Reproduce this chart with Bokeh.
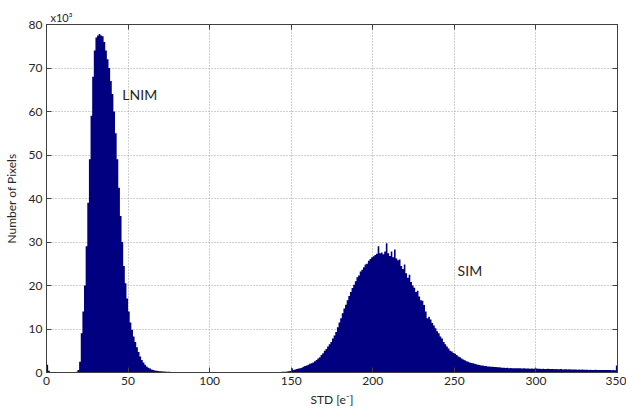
from bokeh.plotting import figure
from bokeh.models import Range1d, LinearAxis, Label, FixedTicker, CustomJSTickFormatter
from bokeh.embed import file_html
from bokeh.resources import INLINE

# ---------------- data (counts in units of 10^3 pixels, 1-unit bins) ----------------
x_ticks = [0, 50, 100, 150, 200, 250, 300, 350]
y_ticks = [0, 10, 20, 30, 40, 50, 60, 70, 80]

low_start = 0
low_counts = [1.8, 0.4]

lnim_start = 18
lnim_counts = [
    0.2, 0.6, 2.5, 9.0, 14.0, 20.0, 29.0, 39.0, 49.0, 59.0,      # 18-27
    68.0, 74.0, 77.0, 77.5, 77.8, 77.5, 77.3, 76.0, 74.0, 72.0,  # 28-37
    70.0, 67.0, 64.0, 60.0, 55.0, 49.0, 42.5, 36.0, 30.0, 24.5,  # 38-47
    20.5, 17.0, 14.0, 11.5, 9.8, 8.3, 7.0, 5.8, 4.7, 3.7,        # 48-57
    2.9, 2.3, 1.8, 1.4, 1.1, 0.9, 0.7, 0.55, 0.45, 0.4,          # 58-67
    0.35, 0.3, 0.28, 0.25, 0.22, 0.2, 0.18, 0.15, 0.14, 0.12,    # 68-77
    0.1, 0.1, 0.08, 0.08, 0.06, 0.05, 0.04, 0.03,                # 78-85
]

sim_start = 140
sim_counts = [
    0.05, 0.05, 0.1, 0.1, 0.15, 0.15, 0.2, 0.25, 0.3, 0.35,      # 140-149
    1.0, 0.6, 0.7, 0.8, 0.9, 1.0, 1.1, 1.3, 1.5, 1.6,            # 150-159
    1.8, 2.0, 2.1, 2.3, 2.6, 2.9, 3.2, 3.5, 4.0, 4.4,            # 160-169
    5.0, 5.4, 6.0, 6.5, 7.0, 7.8, 8.5, 9.3, 10.4, 11.5,          # 170-179
    12.5, 13.6, 14.7, 15.6, 16.6, 17.6, 18.5, 19.4, 20.2, 21.0,  # 180-189
    21.9, 22.3, 23.2, 23.6, 24.2, 24.8, 25.0, 25.7, 26.1, 26.5,  # 190-199
    26.7, 27.0, 27.3, 29.0, 27.4, 27.6, 27.2, 27.8, 29.7, 27.4,  # 200-209
    26.8, 27.8, 26.5, 28.3, 26.2, 25.8, 26.0, 24.5, 23.8, 24.8,  # 210-219
    22.8, 21.8, 22.5, 20.8, 20.0, 19.5, 18.5, 18.8, 17.5, 16.6,  # 220-229
    16.5, 15.5, 14.0, 12.5, 12.8, 12.2, 11.4, 10.8, 10.2, 9.5,   # 230-239
    9.0, 8.3, 7.8, 7.0, 6.5, 6.0, 5.5, 5.0, 4.8, 4.5,            # 240-249
    4.3, 4.0, 3.7, 3.5, 3.2, 3.0, 2.8, 2.6, 2.5, 2.3,            # 250-259
    2.2, 2.1, 2.0, 1.9, 1.8, 1.7, 1.6, 1.6, 1.5, 1.5,            # 260-269
    1.4, 1.4, 1.35, 1.3, 1.25, 1.25, 1.2, 1.2, 1.15, 1.1,        # 270-279
    1.1, 1.05, 1.1, 1.0, 1.05, 1.0, 1.0, 0.95, 1.0, 0.95,        # 280-289
    0.95, 0.9, 0.95, 0.9, 0.9, 0.9, 0.85, 0.9, 0.85, 0.9,        # 290-299
    0.9, 0.85, 0.85, 0.8, 0.85, 0.8, 0.8, 0.85, 0.8, 0.8,        # 300-309
    0.8, 0.75, 0.8, 0.75, 0.75, 0.8, 0.7, 0.75, 0.75, 0.7,       # 310-319
    0.75, 0.7, 0.7, 0.7, 0.7, 0.65, 0.7, 0.65, 0.7, 0.65,        # 320-329
    0.65, 0.65, 0.6, 0.65, 0.6, 0.6, 0.65, 0.6, 0.6, 0.6,        # 330-339
    0.6, 0.55, 0.6, 0.55, 0.55, 0.55, 0.5, 0.55, 0.5, 1.6,       # 340-349
]

labels = ["LNIM", "SIM"]
label_x = [46.5, 252]
label_y = [64, 23.4]

bar_color = "#000080"
TEXT = "#262626"
AXIS = "#404040"
FONT = "Lato"

# ---------------- histogram table (bins 0..349, zero where empty) ----------------
n_bins = x_ticks[-1]
hist = [0.0] * n_bins
for start, counts in [(low_start, low_counts), (lnim_start, lnim_counts), (sim_start, sim_counts)]:
    for i, c in enumerate(counts):
        hist[start + i] = c
edges = list(range(n_bins + 1))
heights = hist + [hist[-1]]

# ---------------- figure ----------------
p = figure(width=626, height=410, x_range=Range1d(0, 350), y_range=Range1d(0, 80),
           output_backend="svg", toolbar_location=None,
           min_border_left=46, min_border_right=9, min_border_top=24, min_border_bottom=38)

p.varea_step(x=edges, y1=0, y2=heights, step_mode="after",
             fill_color=bar_color, fill_alpha=1.0)

for t, xx, yy in zip(labels, label_x, label_y):
    p.add_layout(Label(x=xx, y=yy, text=t, text_font=FONT, text_font_size="14px",
                       text_color=TEXT, text_baseline="middle", text_align="left"))

p.title.text = "x10³"
p.title.align = "left"
p.title.offset = 4
p.title.standoff = 2
p.title.text_font = FONT
p.title.text_font_size = "11px"
p.title.text_font_style = "normal"
p.title.text_color = TEXT

# axes
for ax in [p.xaxis[0], p.yaxis[0]]:
    ax.axis_line_color = AXIS
    ax.major_tick_line_color = AXIS
    ax.major_tick_in = 5
    ax.major_tick_out = 0
    ax.minor_tick_line_color = None
    ax.major_label_text_font = FONT
    ax.major_label_text_font_size = "12px"
    ax.major_label_text_color = TEXT
    ax.axis_label_text_font = FONT
    ax.axis_label_text_font_size = "12px"
    ax.axis_label_text_font_style = "normal"
    ax.axis_label_text_color = TEXT
    ax.major_label_standoff = 4

p.xaxis.axis_label_standoff = 4
p.yaxis.axis_label_standoff = 7
p.xaxis.ticker = FixedTicker(ticks=x_ticks)
p.yaxis.ticker = FixedTicker(ticks=y_ticks)
p.xaxis.axis_label = "STD [e⁻]"
p.yaxis.axis_label = "Number of Pixels"

empty = CustomJSTickFormatter(code="return '';")
top_ax = LinearAxis(ticker=FixedTicker(ticks=x_ticks), formatter=empty, major_tick_in=5,
                    major_tick_out=0, minor_tick_line_color=None, axis_line_color=AXIS,
                    major_tick_line_color=AXIS, major_label_text_font_size="1px",
                    major_label_standoff=0)
right_ax = LinearAxis(ticker=FixedTicker(ticks=y_ticks), formatter=empty, major_tick_in=5,
                      major_tick_out=0, minor_tick_line_color=None, axis_line_color=AXIS,
                      major_tick_line_color=AXIS, major_label_text_font_size="1px",
                      major_label_standoff=0)
p.add_layout(top_ax, "above")
p.add_layout(right_ax, "right")

p.xgrid.ticker = FixedTicker(ticks=x_ticks)
p.ygrid.ticker = FixedTicker(ticks=y_ticks)
p.grid.grid_line_color = "#a0a0a0"
p.grid.grid_line_dash = "1 2"
p.grid.grid_line_width = 1
p.outline_line_color = AXIS
p.background_fill_color = "white"
p.border_fill_color = "white"

open("out.html", "w").write(file_html(p, INLINE))
